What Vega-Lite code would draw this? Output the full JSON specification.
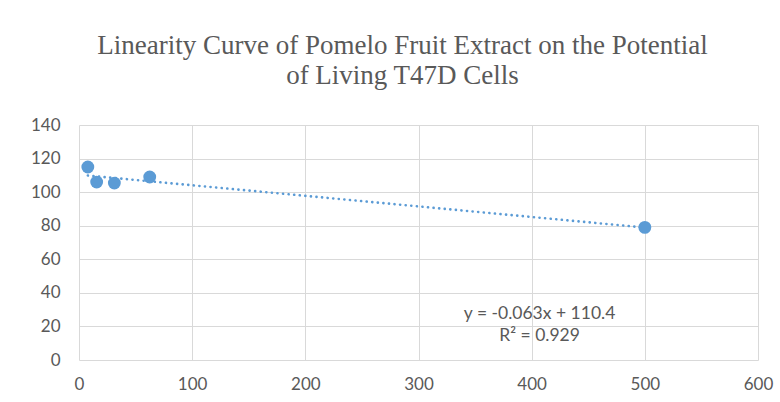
{
  "$schema": "https://vega.github.io/schema/vega-lite/v6.json",
  "width": 679,
  "height": 235,
  "autosize": {"type": "none"},
  "padding": {"left": 79, "top": 125, "right": 22, "bottom": 42},
  "background": "white",
  "title": {
    "text": ["Linearity Curve of Pomelo Fruit Extract on the Potential", "of Living T47D Cells"],
    "font": "Liberation Serif",
    "fontSize": 27,
    "fontWeight": "normal",
    "color": "#595959",
    "anchor": "middle",
    "dx": -16,
    "offset": 26,
    "lineHeight": 30
  },
  "config": {
    "view": {"stroke": null},
    "axis": {
      "labelFont": "Lato",
      "labelFontSize": 17,
      "labelColor": "#595959",
      "labelFlush": false,
      "gridColor": "#d9d9d9",
      "gridWidth": 1,
      "domain": false,
      "ticks": false,
      "title": null
    }
  },
  "datasets": {
    "points": [
      {"conc": 7.8, "live": 115},
      {"conc": 15.6, "live": 106},
      {"conc": 31.25, "live": 105.4},
      {"conc": 62.5, "live": 109},
      {"conc": 500, "live": 79}
    ],
    "trend": [
      {"conc": 7.8, "live": 109.9},
      {"conc": 500, "live": 78.9}
    ],
    "labels": [
      {"conc": 407, "live": 27.4, "text": "y = -0.063x + 110.4"},
      {"conc": 407, "live": 14.3, "text": "R² = 0.929"}
    ]
  },
  "encoding": {
    "x": {"field": "conc", "type": "quantitative", "scale": {"domain": [0, 600]}, "axis": {"values": [0, 100, 200, 300, 400, 500, 600], "labelPadding": 16}},
    "y": {"field": "live", "type": "quantitative", "scale": {"domain": [0, 140]}, "axis": {"values": [0, 20, 40, 60, 80, 100, 120, 140], "labelPadding": 19}}
  },
  "layer": [
    {
      "data": {"name": "trend"},
      "mark": {"type": "line", "color": "#5B9BD5", "strokeWidth": 2.6, "strokeDash": [0.1, 5.5], "strokeCap": "round"}
    },
    {
      "data": {"name": "points"},
      "mark": {"type": "point", "filled": true, "shape": "circle", "size": 165, "color": "#5B9BD5", "opacity": 1}
    },
    {
      "data": {"name": "labels"},
      "mark": {"type": "text", "font": "Lato", "fontSize": 17.5, "color": "#595959", "align": "center", "baseline": "middle"},
      "encoding": {"text": {"field": "text"}}
    }
  ]
}
